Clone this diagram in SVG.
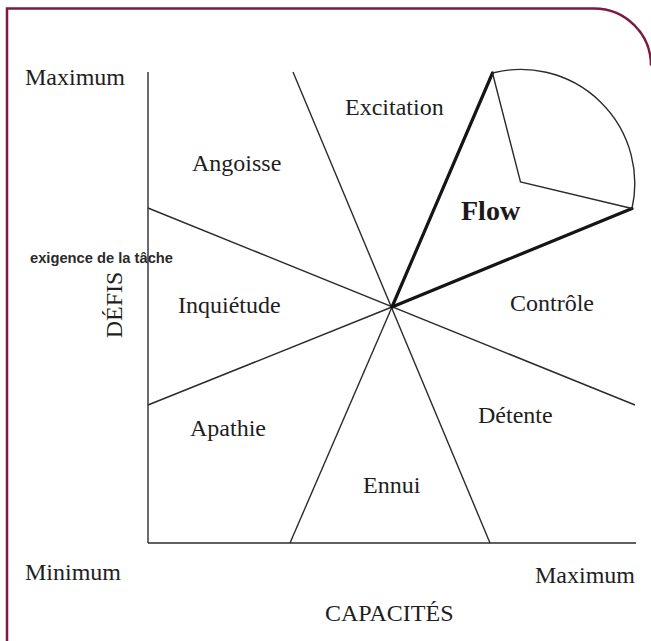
<svg xmlns="http://www.w3.org/2000/svg" width="651" height="641" viewBox="0 0 651 641">
<style>
.lbl{font-family:"Liberation Serif","Times New Roman",serif;font-size:24px;fill:#1e1e1e}
.flow{font-family:"Liberation Serif","Times New Roman",serif;font-size:28px;font-weight:bold;fill:#1a1a1a}
.note{font-family:"Liberation Sans",Arial,sans-serif;font-size:14px;font-weight:bold;fill:#2a2a2a}
.thin{stroke:#2b2b2b;stroke-width:1.4;fill:none}
.bold{stroke:#151515;stroke-width:3.2;fill:none;stroke-linecap:round}
.frame{stroke:#7b1a42;stroke-width:2.5;fill:none}
</style>
<rect width="651" height="641" fill="#ffffff"/>
<path class="frame" d="M7,641 L7,8.5 L594,8.5 A57,57 0 0 1 651,65.5"/>
<g id="connectors">
<line class="thin" x1="148" y1="72" x2="148" y2="543"/>
<line class="thin" x1="148" y1="543" x2="636" y2="543"/>
<line class="thin" x1="293" y1="72" x2="490" y2="543"/>
<line class="thin" x1="290" y1="543" x2="392" y2="307"/>
<line class="thin" x1="148" y1="208" x2="635" y2="405"/>
<line class="thin" x1="148" y1="405" x2="392" y2="307"/>
<line class="bold" x1="392" y1="307" x2="492.5" y2="73"/>
<line class="bold" x1="392" y1="307" x2="632" y2="208.5"/>
<path class="thin" d="M492.5,73 L520.5,182 L632,208.5"/>
<path class="thin" d="M492.5,73 A114,114 0 0 1 632,208.5"/>
</g>
<g id="max-y"><text class="lbl" x="25" y="85">Maximum</text></g>
<g id="excitation"><text class="lbl" x="345" y="115">Excitation</text></g>
<g id="angoisse"><text class="lbl" x="192" y="171">Angoisse</text></g>
<g id="flow"><text class="flow" x="461" y="220">Flow</text></g>
<g id="exigence"><text class="note" x="30" y="263" textLength="143" lengthAdjust="spacingAndGlyphs">exigence de la tâche</text></g>
<g id="defis"><text class="lbl" transform="translate(122,305) rotate(-90)" text-anchor="middle">DÉFIS</text></g>
<g id="inquietude"><text class="lbl" x="178" y="313">Inquiétude</text></g>
<g id="controle"><text class="lbl" x="510" y="311">Contrôle</text></g>
<g id="apathie"><text class="lbl" x="190" y="436">Apathie</text></g>
<g id="detente"><text class="lbl" x="478" y="423">Détente</text></g>
<g id="ennui"><text class="lbl" x="363" y="493">Ennui</text></g>
<g id="min-x"><text class="lbl" x="25" y="580">Minimum</text></g>
<g id="max-x"><text class="lbl" x="535" y="583">Maximum</text></g>
<g id="capacites"><text class="lbl" x="325" y="621">CAPACITÉS</text></g>
</svg>
